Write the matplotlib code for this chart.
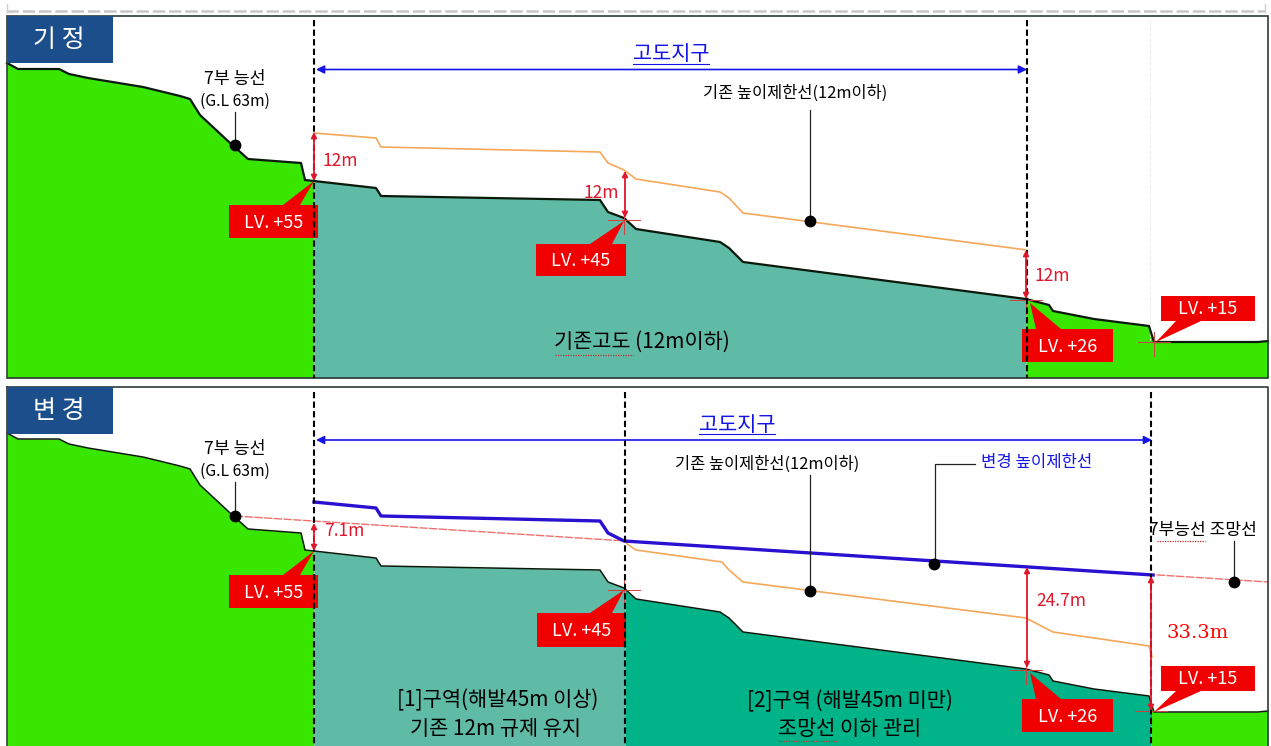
import numpy as np
import matplotlib
matplotlib.use('Agg')
import matplotlib.pyplot as plt
from matplotlib.patches import Rectangle, Polygon

plt.rcParams['font.family'] = ['Noto Sans CJK KR', 'DejaVu Sans']

# ground profile, traced in picture pixels (upper panel)
terrain_x = [7, 18, 59, 69, 88, 143, 180, 190, 200, 229, 248, 301, 305, 314, 376, 381,
             600, 608, 624, 636, 720, 729, 743, 1026, 1049, 1053, 1094, 1149, 1154, 1258, 1268]
terrain_y = [63, 69, 69, 74, 78, 87, 96, 99, 115, 142, 159, 163, 180, 181, 188, 196,
             200, 212, 218, 229, 242, 248, 262, 299, 305, 311, 319, 326, 342, 342, 341]

# existing 12m height limit, upper panel
limit_x = [314, 376, 381, 600, 608, 624, 636, 720, 729, 743, 1027]
limit_y = [133, 138, 147, 152, 163, 170, 179, 192, 198, 213, 250]

# lower panel lines
old_limit_x = [624, 630, 636, 722, 729, 743, 1026, 1049, 1053, 1149, 1152]
old_limit_y = [541, 546, 550, 562, 570, 582, 618, 630, 632, 646, 657]
new_limit_x = [314, 376, 381, 600, 608, 624, 1153]
new_limit_y = [502, 508, 516, 521, 533, 541, 575]
view_line_x = [235, 1268]
view_line_y = [516, 582]

PANEL_SHIFT = 370

GREEN = '#38e600'
TEAL = '#5fbba6'
DARK_TEAL = '#00b388'
NAVY = '#1c4e8c'
RED = '#f00000'
ARROW_RED = '#e0162b'
BLUE = '#1414e6'

fig = plt.figure(figsize=(12.71, 7.46), dpi=100)
ax = fig.add_axes([0, 0, 1, 1])
ax.set_xlim(0, 1271)
ax.set_ylim(746, 0)
ax.axis('off')


def fill_ground(xa, xb, color, shift, bottom):
    xs = [x for x in terrain_x if xa < x < xb]
    xs = [xa] + xs + [xb]
    ys = np.interp(xs, terrain_x, terrain_y) + shift
    ax.fill_between(xs, ys, bottom, color=color, lw=0, zorder=1)


def callout(x0, x1, y0, y1, tail0, tail1, tip, text):
    tail_y = y0 if tip[1] < y0 else y1
    ax.add_patch(Polygon([(tail0, tail_y), (tail1, tail_y), tip], color=RED, lw=0, zorder=5))
    ax.add_patch(Rectangle((x0, y0), x1 - x0, y1 - y0, color=RED, lw=0, zorder=5))
    ax.text((x0 + x1) / 2, (y0 + y1) / 2 + 1, text, color='white', fontsize=13,
            ha='center', va='center', zorder=6)


def red_arrow(x, y0, y1):
    ax.annotate('', xy=(x, y1), xytext=(x, y0), zorder=7,
                arrowprops=dict(arrowstyle='<|-|>', color=ARROW_RED, lw=1.3, mutation_scale=8,
                                shrinkA=0, shrinkB=0))


def label(x, y, text, color='black', size=12):
    return ax.text(x, y, text, color=color, fontsize=size, ha='center', va='center', zorder=8)


def dot(x, y):
    ax.plot([x], [y], 'o', color='black', ms=7.5, zorder=8)


def cross(x, y):
    ax.plot([x - 16, x + 16], [y, y], color='#d04040', lw=0.7, zorder=4)
    ax.plot([x, x], [y - 10, y + 14], color='#d04040', lw=0.7, zorder=4)


def squiggle(x0, x1, y):
    ax.plot([x0, x1], [y, y], color='#c03030', lw=0.9, ls=(0, (1, 1)), zorder=9)


def dashed(x, y0, y1):
    ax.plot([x, x], [y0, y1], color='black', lw=1.5, ls=(0, (3, 1.6)), zorder=6)


def district_arrow(x0, x1, y, text, text_x):
    ax.annotate('', xy=(x1, y), xytext=(x0, y), zorder=7,
                arrowprops=dict(arrowstyle='<|-|>', color=BLUE, lw=1.2, mutation_scale=12,
                                shrinkA=0, shrinkB=0))
    label(text_x, y - 15, text, color=BLUE, size=15)
    ax.plot([text_x - 38, text_x + 38], [y - 6, y - 6], color=BLUE, lw=0.8, zorder=8)


def tab(top, text):
    ax.add_patch(Rectangle((7, top), 106, 47, color=NAVY, lw=0, zorder=6))
    ax.text(59, top + 24, text, color='white', fontsize=18, ha='center', va='center', zorder=7)


# dashed strip along the top of the page
ax.plot([6, 1265], [11, 11], color='#c8c8c8', lw=1.8, ls=(0, (5, 1.5)), zorder=1)
ax.plot([7, 7, 12], [4, 12, 12], color='#d0d0d0', lw=1, zorder=1)
ax.plot([1265, 1265], [4, 12], color='#d0d0d0', lw=1, zorder=1)

# ---- upper panel (기정)
fill_ground(7, 314, GREEN, 0, 378)
fill_ground(314, 1026, TEAL, 0, 378)
fill_ground(1026, 1268, GREEN, 0, 378)
ax.plot(terrain_x, terrain_y, color='#0a1a0a', lw=1.6, zorder=3)
ax.plot(limit_x, limit_y, color='#f5a85a', lw=1.2, zorder=3)
ax.add_patch(Rectangle((6.5, 16), 1261.5, 362, fill=False, ec='#303a3a', lw=1.2, zorder=4))
tab(16, '기 정')

dashed(314, 20, 378)
dashed(1027, 20, 378)
ax.plot([1150, 1150], [20, 340], color='#eeeeee', lw=0.8, ls='--', zorder=2)
district_arrow(316, 1027, 69.5, '고도지구', 671)

label(235, 79, '7부 능선', size=12.5)
label(235, 101, '(G.L 63m)', size=11.3)
ax.plot([235, 235], [112, 145], color='#222222', lw=0.9, zorder=7)
dot(235, 145)
label(795, 93, '기존 높이제한선(12m이하)', size=11.8)
ax.plot([810, 810], [110, 220], color='#222222', lw=0.9, zorder=7)
dot(810, 221)

red_arrow(314, 132, 181)
label(340, 161, '12m', color=ARROW_RED, size=12.5)
red_arrow(625, 171, 218)
label(601, 193, '12m', color=ARROW_RED, size=12.5)
red_arrow(1026, 250, 299)
label(1052, 276, '12m', color=ARROW_RED, size=12.5)

cross(624, 220)
cross(1026, 300)
cross(1154, 342)
callout(229, 318, 205, 238, 283, 300, (314, 181), 'LV. +55')
callout(536, 626, 244, 276, 590, 612, (624, 221), 'LV. +45')
callout(1022, 1113, 329, 362, 1036, 1061, (1030, 303), 'LV. +26')
callout(1161, 1255, 296, 321, 1176, 1201, (1156, 342), 'LV. +15')

label(642, 342, '기존고도 (12m이하)', size=15)
squiggle(555, 633, 355)

# ---- lower panel (변경)
s = PANEL_SHIFT
fill_ground(7, 314, GREEN, s, 760)
fill_ground(314, 625, TEAL, s, 760)
fill_ground(625, 1151, DARK_TEAL, s, 760)
fill_ground(1151, 1268, GREEN, s, 760)
ax.plot(terrain_x, np.array(terrain_y) + s, color='#0a1a0a', lw=1.1, zorder=3)
ax.plot(old_limit_x, old_limit_y, color='#f5a85a', lw=1.2, zorder=3)
ax.plot(view_line_x, view_line_y, color='#f07070', lw=1.0, ls=(0, (6, 1)), zorder=3)
ax.plot(new_limit_x, new_limit_y, color='#2a10d0', lw=2.4, zorder=4)
ax.plot([6.5, 6.5], [387, 746], color='#303a3a', lw=1.2, zorder=4)
ax.plot([6.5, 1268, 1268], [387, 387, 746], color='#303a3a', lw=1.2, zorder=4)
tab(387, '변 경')

dashed(314, 392, 746)
dashed(625, 392, 746)
dashed(1151, 392, 746)
district_arrow(316, 1152, 440, '고도지구', 737)

label(235, 449, '7부 능선', size=12.5)
label(235, 471, '(G.L 63m)', size=11.3)
ax.plot([235, 235], [482, 515], color='#222222', lw=0.9, zorder=7)
dot(235, 516)
label(767, 464, '기존 높이제한선(12m이하)', size=11.8)
ax.plot([810, 810], [475, 590], color='#222222', lw=0.9, zorder=7)
dot(810, 591)
label(1037, 462, '변경 높이제한선', color=BLUE, size=12)
ax.plot([975, 935, 935], [464, 464, 563], color='#222222', lw=0.9, zorder=7)
dot(934, 564)
label(1203, 530, '7부능선 조망선', size=12.3)
squiggle(1157, 1205, 541)
ax.plot([1234, 1234], [541, 581], color='#222222', lw=0.9, zorder=7)
dot(1234, 582)

red_arrow(314, 523, 551)
label(344, 531, '7.1m', color=ARROW_RED, size=12.5)
red_arrow(1027, 567, 668)
label(1061, 601, '24.7m', color=ARROW_RED, size=12.5)
red_arrow(1151, 576, 711)
ax.text(1198, 633, '33.3m', color='#ff0000', fontsize=14, ha='center', va='center',
        family='DejaVu Serif', zorder=8)

cross(624, 590)
cross(1026, 670)
cross(1151, 711)
callout(229, 318, 575, 608, 283, 300, (314, 551), 'LV. +55')
callout(537, 626, 613, 647, 590, 612, (624, 590), 'LV. +45')
callout(1022, 1113, 699, 732, 1036, 1061, (1030, 673), 'LV. +26')
callout(1161, 1255, 666, 691, 1176, 1201, (1154, 712), 'LV. +15')

label(498, 700, '[1]구역(해발45m 이상)', size=15)
label(496, 729, '기존 12m 규제 유지', size=15)
label(850, 701, '[2]구역 (해발45m 미만)', size=15)
label(850, 729, '조망선 이하 관리', size=15)
squiggle(778, 838, 741)

fig.savefig('out.png', dpi=100)
